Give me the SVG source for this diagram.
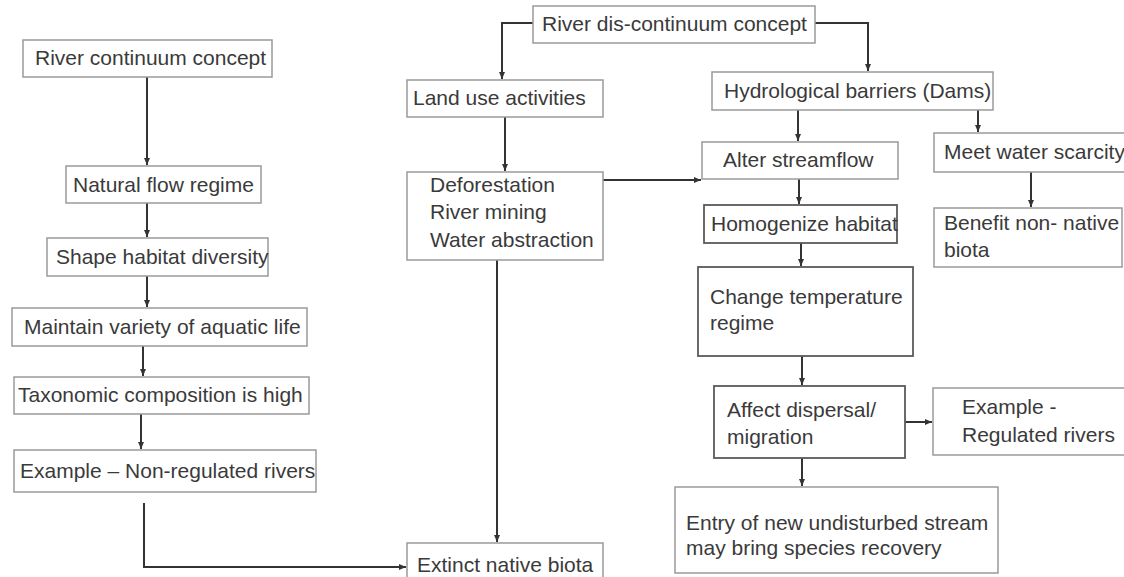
<svg xmlns="http://www.w3.org/2000/svg" width="1124" height="577" viewBox="0 0 1124 577">
<style>
.box{fill:#fff;stroke:#9a9a9a;stroke-width:1.5}
.dark{fill:#fff;stroke:#5a5a5a;stroke-width:1.8}
text{font-family:"Liberation Sans",Arial,sans-serif;font-size:21px;fill:#3a3a3a}
.c{fill:none;stroke:#333;stroke-width:2}
</style>
<defs>
<marker id="ah" markerUnits="userSpaceOnUse" markerWidth="8" markerHeight="8" viewBox="0 0 8 8" refX="7" refY="4" orient="auto">
<path d="M0,1 L7,4 L0,7 Z" fill="#333"/>
</marker>
</defs>
<rect width="1124" height="577" fill="#fff"/>
<g id="connectors">
<path class="c" marker-end="url(#ah)" d="M147 77 V165"/>
<path class="c" marker-end="url(#ah)" d="M147 203 V237"/>
<path class="c" marker-end="url(#ah)" d="M147 276 V307"/>
<path class="c" marker-end="url(#ah)" d="M143 346 V376"/>
<path class="c" marker-end="url(#ah)" d="M141 414 V449"/>
<path class="c" marker-end="url(#ah)" d="M144 503 V567 H406"/>
<path class="c" marker-end="url(#ah)" d="M533 23 H502 V79"/>
<path class="c" marker-end="url(#ah)" d="M815 23 H868 V71"/>
<path class="c" marker-end="url(#ah)" d="M505 117 V171"/>
<path class="c" marker-end="url(#ah)" d="M603 180 H701"/>
<path class="c" marker-end="url(#ah)" d="M497 260 V542"/>
<path class="c" marker-end="url(#ah)" d="M798 110 V141"/>
<path class="c" marker-end="url(#ah)" d="M978 110 V132"/>
<path class="c" marker-end="url(#ah)" d="M1031 172 V207"/>
<path class="c" marker-end="url(#ah)" d="M799 179 V204"/>
<path class="c" marker-end="url(#ah)" d="M801 243 V266"/>
<path class="c" marker-end="url(#ah)" d="M802 356 V385"/>
<path class="c" marker-end="url(#ah)" d="M905 422 H932"/>
<path class="c" marker-end="url(#ah)" d="M802 458 V486"/>
</g>
<g id="n-rcc"><rect class="box" x="23" y="40" width="249" height="37"/><text x="35" y="65">River continuum concept</text></g>
<g id="n-nfr"><rect class="box" x="66" y="166" width="195" height="37"/><text x="73" y="192">Natural flow regime</text></g>
<g id="n-shd"><rect class="box" x="47" y="238" width="221" height="38"/><text x="56" y="264">Shape habitat diversity</text></g>
<g id="n-mva"><rect class="box" x="12" y="308" width="295" height="38"/><text x="24" y="334">Maintain variety of aquatic life</text></g>
<g id="n-tax"><rect class="box" x="14" y="377" width="295" height="37"/><text x="18" y="402">Taxonomic composition is high</text></g>
<g id="n-enr"><rect class="box" x="14" y="450" width="302" height="42"/><text x="20" y="478">Example – Non-regulated rivers</text></g>
<g id="n-rdc"><rect class="box" x="533" y="6" width="282" height="37"/><text x="542" y="31">River dis-continuum concept</text></g>
<g id="n-lua"><rect class="box" x="407" y="80" width="196" height="37"/><text x="413" y="105">Land use activities</text></g>
<g id="n-def"><rect class="box" x="407" y="172" width="196" height="88"/><text x="430" y="192">Deforestation</text><text x="430" y="219">River mining</text><text x="430" y="247">Water abstraction</text></g>
<g id="n-ext"><rect class="box" x="407" y="543" width="196" height="40"/><text x="417" y="572">Extinct native biota</text></g>
<g id="n-hyd"><rect class="box" x="712" y="72" width="281" height="38"/><text x="724" y="98">Hydrological barriers (Dams)</text></g>
<g id="n-alt"><rect class="box" x="702" y="142" width="196" height="37"/><text x="723" y="167">Alter streamflow</text></g>
<g id="n-hom"><rect class="dark" x="704" y="205" width="193" height="38"/><text x="711" y="231">Homogenize habitat</text></g>
<g id="n-ctr"><rect class="dark" x="698" y="267" width="215" height="89"/><text x="710" y="304">Change temperature</text><text x="710" y="330">regime</text></g>
<g id="n-adm"><rect class="dark" x="714" y="386" width="191" height="72"/><text x="727" y="417">Affect dispersal/</text><text x="727" y="444">migration</text></g>
<g id="n-err"><rect class="box" x="933" y="388" width="195" height="67"/><text x="962" y="414">Example -</text><text x="962" y="442">Regulated rivers</text></g>
<g id="n-ent"><rect class="box" x="675" y="487" width="323" height="86"/><text x="686" y="530">Entry of new undisturbed stream</text><text x="686" y="555">may bring species recovery</text></g>
<g id="n-mws"><rect class="box" x="934" y="133" width="196" height="39"/><text x="944" y="159">Meet water scarcity</text></g>
<g id="n-bnn"><rect class="box" x="934" y="208" width="188" height="59"/><text x="944" y="230">Benefit non- native</text><text x="944" y="257">biota</text></g>
</svg>
